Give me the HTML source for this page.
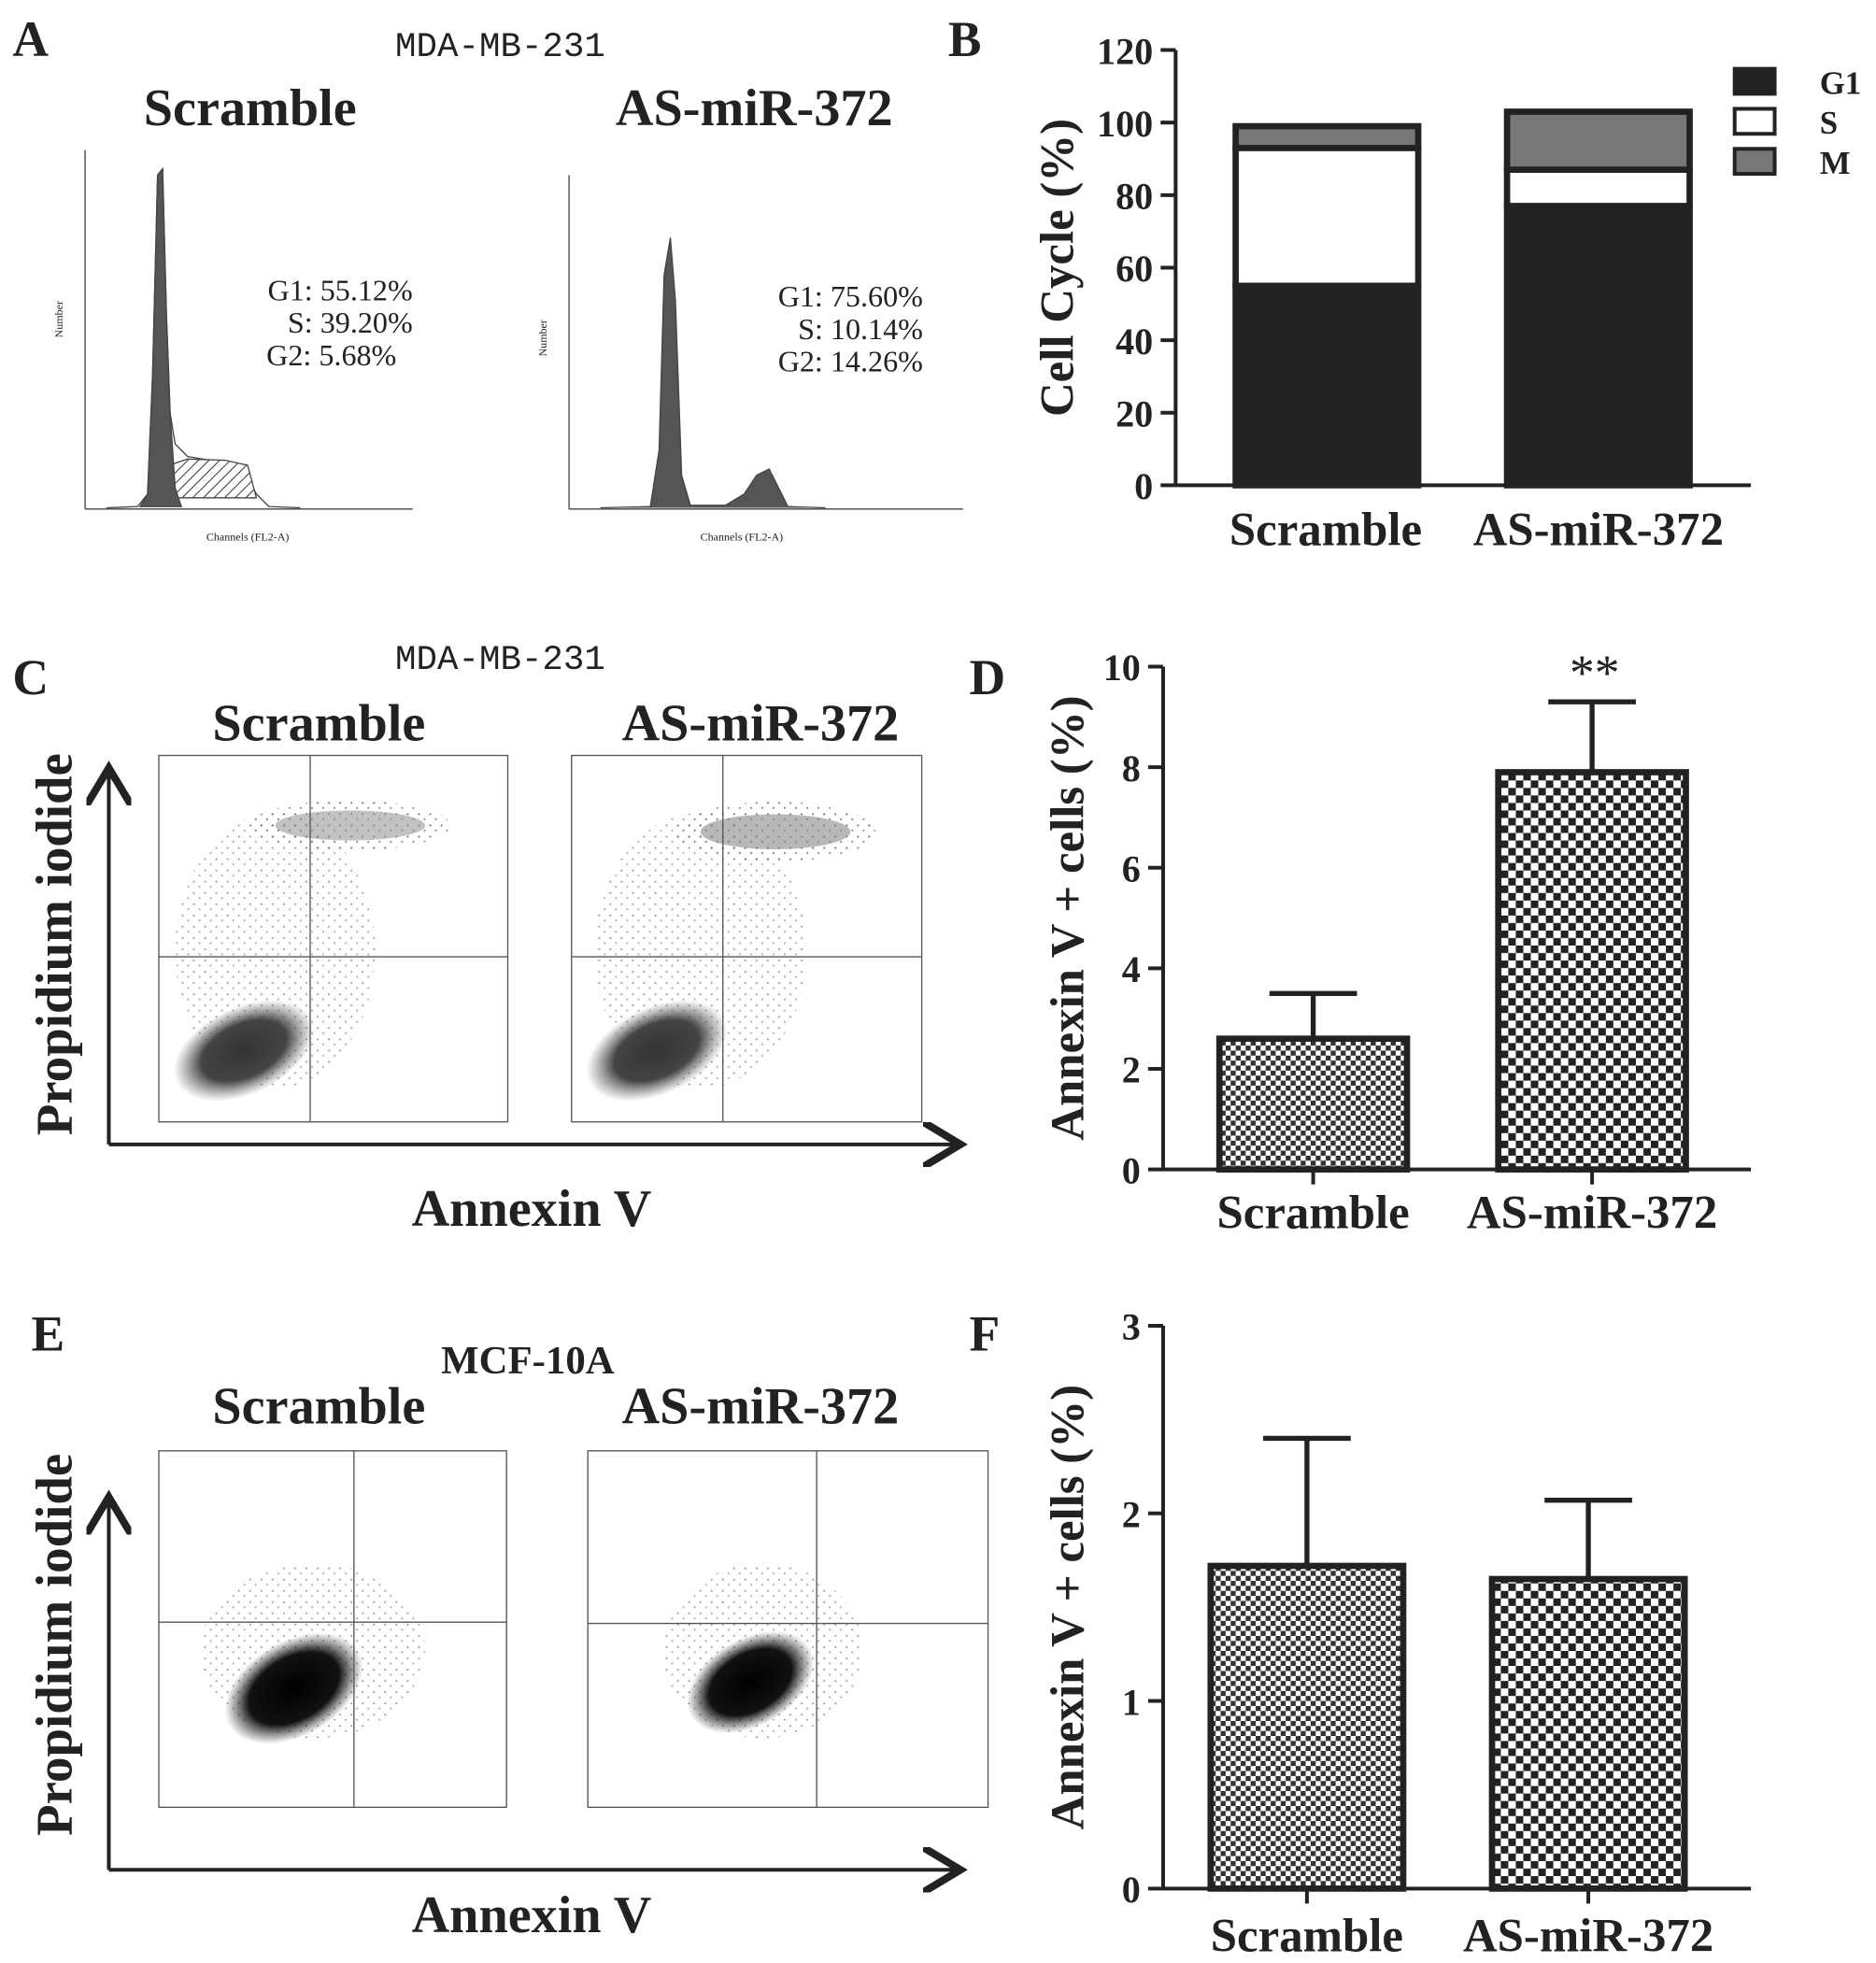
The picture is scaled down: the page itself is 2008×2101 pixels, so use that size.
<!DOCTYPE html>
<html><head><meta charset="utf-8"><style>
html,body{margin:0;padding:0;background:#fff}
svg{display:block}
text{font-family:"Liberation Serif",serif;fill:#222}
.b{font-weight:bold}
</style></head><body>
<svg id="fig" width="2008" height="2101" viewBox="0 0 1500 1569.5" xmlns="http://www.w3.org/2000/svg">
<defs>
<pattern id="chk1" width="8" height="8" patternUnits="userSpaceOnUse"><rect width="8" height="8" fill="#fff"/><rect width="4" height="4" fill="#333"/><rect x="4" y="4" width="4" height="4" fill="#333"/></pattern>
<pattern id="chk2" width="12" height="12" patternUnits="userSpaceOnUse"><rect width="12" height="12" fill="#fff"/><rect width="6" height="6" fill="#222"/><rect x="6" y="6" width="6" height="6" fill="#222"/></pattern>
<pattern id="hatch" width="6" height="6" patternUnits="userSpaceOnUse" patternTransform="rotate(45)"><rect width="6" height="6" fill="#fff"/><line x1="0" y1="0" x2="0" y2="6" stroke="#333" stroke-width="1.5"/></pattern>
<pattern id="speck" width="9" height="9" patternUnits="userSpaceOnUse"><circle cx="2" cy="3" r="0.8" fill="#777"/><circle cx="6.5" cy="7" r="0.8" fill="#888"/></pattern>
<radialGradient id="blob"><stop offset="0" stop-color="#333"/><stop offset="0.6" stop-color="#444"/><stop offset="1" stop-color="#666" stop-opacity="0"/></radialGradient>
<radialGradient id="blobk"><stop offset="0" stop-color="#000"/><stop offset="0.65" stop-color="#111"/><stop offset="1" stop-color="#333" stop-opacity="0"/></radialGradient>
<marker id="arr" markerWidth="12" markerHeight="12" refX="9" refY="6" orient="auto"><path d="M0,0 L10,6 L0,12" fill="none" stroke="#222" stroke-width="2"/></marker>
</defs>

<text x="10" y="45" font-size="40" class="b">A</text>
<text x="758" y="45" font-size="40" class="b">B</text>
<text x="10" y="555" font-size="40" class="b">C</text>
<text x="775" y="555" font-size="40" class="b">D</text>
<text x="25" y="1080" font-size="40" class="b">E</text>
<text x="775" y="1080" font-size="40" class="b">F</text>

<!-- Panel A -->
<text x="400" y="45" font-size="28" text-anchor="middle" style="font-family:'Liberation Mono',monospace">MDA-MB-231</text>
<text x="200" y="100" font-size="42" class="b" text-anchor="middle">Scramble</text>
<text x="603" y="100" font-size="42" class="b" text-anchor="middle">AS-miR-372</text>
<g stroke="#444" fill="none">
<line x1="68" y1="120" x2="68" y2="407"/><line x1="68" y1="407" x2="330" y2="407"/>
<path d="M85,406 L110,405 L118,395 L122,300 L126,140 L130,135 L133,250 L136,330 L140,355 L150,365 L180,370 L195,378 L205,395 L215,405 L240,406" fill="#fff"/>
<path d="M135,372 L150,367 L180,368 L198,372 L205,398 L135,398 Z" fill="url(#hatch)"/>
<path d="M112,405 L118,395 L122,300 L126,140 L130,135 L133,250 L136,330 L140,390 L145,405 Z" fill="#555"/>
<text x="165" y="432" font-size="9" stroke="none">Channels (FL2-A)</text>
<text x="50" y="270" font-size="9" stroke="none" transform="rotate(-90 50 270)">Number</text>
</g>
<text font-size="24" text-anchor="middle"><tspan x="272" y="240">G1: 55.12%</tspan><tspan x="280" dy="26">S: 39.20%</tspan><tspan x="265" dy="26">G2: 5.68%</tspan></text>
<g stroke="#444" fill="none">
<line x1="455" y1="140" x2="455" y2="407"/><line x1="455" y1="407" x2="770" y2="407"/>
<path d="M480,406 L520,405 L527,360 L531,220 L536,190 L540,240 L545,380 L552,404 L580,404 L595,395 L605,380 L615,375 L625,395 L630,405 L660,406" fill="#555"/>
<text x="560" y="432" font-size="9" stroke="none">Channels (FL2-A)</text>
<text x="437" y="285" font-size="9" stroke="none" transform="rotate(-90 437 285)">Number</text>
</g>
<text font-size="24" text-anchor="middle"><tspan x="680" y="245">G1: 75.60%</tspan><tspan x="688" dy="26">S: 10.14%</tspan><tspan x="680" dy="26">G2: 14.26%</tspan></text>

<!-- Panel C -->
<text x="400" y="535" font-size="28" text-anchor="middle" style="font-family:'Liberation Mono',monospace">MDA-MB-231</text>
<text x="255" y="592" font-size="42" class="b" text-anchor="middle">Scramble</text>
<text x="608" y="592" font-size="42" class="b" text-anchor="middle">AS-miR-372</text>
<g>
<rect x="127" y="604" width="279" height="293" fill="#fff" stroke="#555"/>
<ellipse cx="280" cy="660" rx="80" ry="20" fill="url(#speck)"/>
<ellipse cx="280" cy="660" rx="60" ry="12" fill="#999" opacity="0.6"/>
<ellipse cx="220" cy="760" rx="80" ry="110" fill="url(#speck)" opacity="0.7"/>
<ellipse cx="195" cy="840" rx="60" ry="35" fill="url(#blob)" transform="rotate(-25 195 840)"/>
<line x1="248" y1="604" x2="248" y2="897" stroke="#555"/><line x1="127" y1="765" x2="406" y2="765" stroke="#555"/>
</g>
<g>
<rect x="457" y="604" width="280" height="293" fill="#fff" stroke="#555"/>
<ellipse cx="620" cy="665" rx="80" ry="24" fill="url(#speck)"/>
<ellipse cx="620" cy="665" rx="60" ry="14" fill="#888" opacity="0.6"/>
<ellipse cx="560" cy="760" rx="85" ry="110" fill="url(#speck)" opacity="0.7"/>
<ellipse cx="525" cy="840" rx="60" ry="35" fill="url(#blob)" transform="rotate(-25 525 840)"/>
<line x1="578" y1="604" x2="578" y2="897" stroke="#555"/><line x1="457" y1="765" x2="737" y2="765" stroke="#555"/>
</g>
<line x1="87" y1="915" x2="87" y2="617" stroke="#222" stroke-width="3" marker-end="url(#arr)"/>
<line x1="87" y1="915" x2="765" y2="915" stroke="#222" stroke-width="3" marker-end="url(#arr)"/>
<text x="57" y="755" font-size="41" class="b" text-anchor="middle" transform="rotate(-90 57 755)">Propidium iodide</text>
<text x="425" y="980" font-size="42" class="b" text-anchor="middle">Annexin V</text>

<!-- Panel E -->
<text x="422" y="1098" font-size="32" class="b" text-anchor="middle">MCF-10A</text>
<text x="255" y="1138" font-size="42" class="b" text-anchor="middle">Scramble</text>
<text x="608" y="1138" font-size="42" class="b" text-anchor="middle">AS-miR-372</text>
<g>
<rect x="127" y="1160" width="278" height="285" fill="#fff" stroke="#555"/>
<ellipse cx="250" cy="1320" rx="90" ry="70" fill="url(#speck)" opacity="0.7"/>
<ellipse cx="235" cy="1350" rx="60" ry="38" fill="url(#blobk)" transform="rotate(-30 235 1350)"/>
<line x1="283" y1="1160" x2="283" y2="1445" stroke="#555"/><line x1="127" y1="1297" x2="405" y2="1297" stroke="#555"/>
</g>
<g>
<rect x="470" y="1160" width="320" height="285" fill="#fff" stroke="#555"/>
<ellipse cx="610" cy="1320" rx="80" ry="70" fill="url(#speck)" opacity="0.7"/>
<ellipse cx="600" cy="1345" rx="55" ry="35" fill="url(#blobk)" transform="rotate(-30 600 1345)"/>
<line x1="653" y1="1160" x2="653" y2="1445" stroke="#555"/><line x1="470" y1="1298" x2="790" y2="1298" stroke="#555"/>
</g>
<line x1="87" y1="1495" x2="87" y2="1200" stroke="#222" stroke-width="3" marker-end="url(#arr)"/>
<line x1="87" y1="1495" x2="765" y2="1495" stroke="#222" stroke-width="3" marker-end="url(#arr)"/>
<text x="57" y="1315" font-size="41" class="b" text-anchor="middle" transform="rotate(-90 57 1315)">Propidium iodide</text>
<text x="425" y="1545" font-size="42" class="b" text-anchor="middle">Annexin V</text>

<g id="chartB"></g><g id="chartD"></g><g id="chartF"></g>
</svg>
<script>
const cats = ["Scramble", "AS-miR-372"];
const bG1 = [55, 77];
const bS = [38, 10];
const bM = [6, 16];
const bTicks = [0, 20, 40, 60, 80, 100, 120];
const dVals = [2.6, 7.9];
const dErr = [0.9, 1.4];
const dTicks = [0, 2, 4, 6, 8, 10];
const fVals = [1.72, 1.65];
const fErr = [0.68, 0.42];
const fTicks = [0, 1, 2, 3];

const NS = "http://www.w3.org/2000/svg";
function mk(parent, tag, attrs, txt) {
  const e = document.createElementNS(NS, tag);
  for (const k in attrs) e.setAttribute(k, attrs[k]);
  if (txt !== undefined) e.textContent = txt;
  parent.appendChild(e);
  return e;
}
function axis(g, ax, y0, y1, vmin, vmax, ticks, titleX, title, name) {
  const sc = v => y0 - (v - vmin) / (vmax - vmin) * (y0 - y1);
  const l = mk(g, "line", {x1: ax, y1: y1, x2: ax, y2: y0, stroke: "#222", "stroke-width": 3});
  
  
  ticks.forEach(t => {
    const tl = mk(g, "line", {x1: ax - 12, y1: sc(t), x2: ax, y2: sc(t), stroke: "#222", "stroke-width": 3});
    
    
    const tx = mk(g, "text", {x: ax - 18, y: sc(t) + 11, "font-size": 30, "font-weight": "bold", "text-anchor": "end"}, t);
    
    
  });
  const yt = mk(g, "text", {x: titleX, y: (y0 + y1) / 2, "font-size": 38, "font-weight": "bold", "text-anchor": "middle", transform: `rotate(-90 ${titleX} ${(y0 + y1) / 2})`}, title);
  
  
  return sc;
}
function xlabels(g, centers, y, name) {
  cats.forEach((c, i) => {
    const t = mk(g, "text", {x: centers[i], y: y, "font-size": 38, "font-weight": "bold", "text-anchor": "middle"}, c);
    
    
  });
}
(function () {
  const g = document.getElementById("chartB");
  const sc = axis(g, 940, 388, 40, 0, 120, bTicks, 858, "Cell Cycle (%)", "chart-b");
  mk(g, "line", {x1: 940, y1: 388, x2: 1400, y2: 388, stroke: "#222", "stroke-width": 3});
  const xs = [988, 1205], w = 146;
  const fills = ["#222", "#fff", "#777"];
  cats.forEach((c, i) => {
    let base = 0;
    [bG1[i], bS[i], bM[i]].forEach((v, k) => {
      const r = mk(g, "rect", {x: xs[i], y: sc(base + v), width: w, height: sc(base) - sc(base + v), fill: fills[k], stroke: "#222", "stroke-width": 5});
      
      
      base += v;
    });
  });
  xlabels(g, [1060, 1278], 436, "chart-b");
  ["G1", "S", "M"].forEach((n, k) => {
    const r = mk(g, "rect", {x: 1387, y: 55 + k * 32, width: 32, height: 20, fill: fills[k], stroke: "#222", "stroke-width": 3});
    
    
    const t = mk(g, "text", {x: 1455, y: 75 + k * 32, "font-size": 26, "font-weight": "bold"}, n);
    
    
  });
})();
function errBars(gid, vals, errs, ticks, y0, y1, vmax, xs, w, pats, labY, name) {
  const g = document.getElementById(gid);
  const sc = axis(g, 930, y0, y1, 0, vmax, ticks, 866, "Annexin V + cells (%)", name);
  mk(g, "line", {x1: 930, y1: y0, x2: 1400, y2: y0, stroke: "#222", "stroke-width": 3});
  vals.forEach((v, i) => {
    const cx = xs[i] + w / 2;
    const e = mk(g, "path", {d: `M${cx},${sc(v)} V${sc(v + errs[i])} M${cx - 35},${sc(v + errs[i])} H${cx + 35}`, stroke: "#222", "stroke-width": 4, fill: "none"});
    
    
    const r = mk(g, "rect", {x: xs[i], y: sc(v), width: w, height: y0 - sc(v), fill: pats[i], stroke: "#222", "stroke-width": 5});
    
    
    mk(g, "line", {x1: cx, y1: y0, x2: cx, y2: y0 + 12, stroke: "#222", "stroke-width": 3});
  });
  xlabels(g, xs.map(x => x + w / 2), labY, name);
  return {g, sc};
}
const D = errBars("chartD", dVals, dErr, dTicks, 935, 533, 10, [975, 1198], 150, ["url(#chk1)", "url(#chk2)"], 982, "chart-d");
const star = mk(D.g, "text", {x: 1275, y: D.sc(dVals[1] + dErr[1]) - 10, "font-size": 40, "text-anchor": "middle"}, "**");


errBars("chartF", fVals, fErr, fTicks, 1510, 1060, 3, [968, 1193], 154, ["url(#chk1)", "url(#chk2)"], 1560, "chart-f");
</script>
</body></html>
